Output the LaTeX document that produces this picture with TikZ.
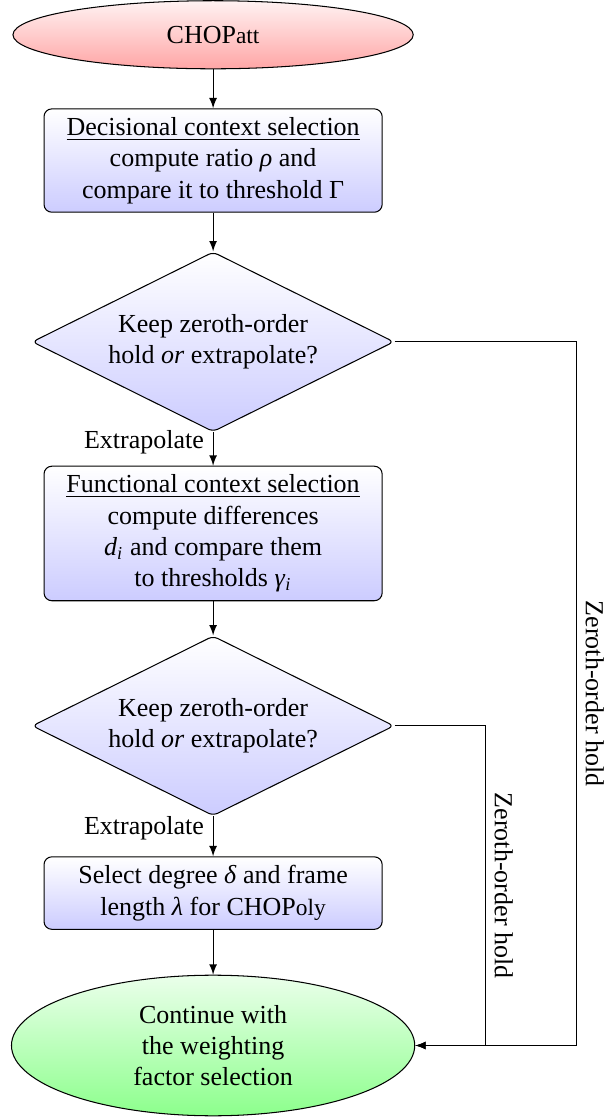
\documentclass[tikz,border=0pt]{standalone}
\usepackage{fontspec}
\setmainfont{Liberation Serif}
\usetikzlibrary{shapes.geometric}
\tikzset{
  term/.style={draw, ellipse, align=center},
  proc/.style={draw, rounded corners=3pt, top color=white, bottom color=blue!20, align=center, minimum width=4.57cm},
  quest/.style={draw, diamond, aspect=2, rounded corners=2pt, top color=white, bottom color=blue!20, align=center, inner sep=0pt, minimum width=4.89cm, minimum height=2.43cm},
  zoh/.style={rotate=-90, anchor=south},
}
\begin{document}
\begin{tikzpicture}[>=latex]
\useasboundingbox (0,0) rectangle (8.15,-15.11);
\node[term, top color=red!5, bottom color=red!35, minimum width=5.41cm, minimum height=0.92cm] (att) at (2.88,-0.47) {CHOP{\small att}};
\node[proc] (dcs) at (2.88,-2.17) {\underline{Decisional context selection}\\ compute ratio \textit{ρ} and\\ compare it to threshold Γ};
\draw[->] (att) -- (dcs);
\node[quest] (q1) at (2.88,-4.62) {Keep zeroth-order\\ hold \textit{or} extrapolate?};
\draw[->] (dcs) -- (q1);
\node[proc] (fcs) at (2.88,-7.21) {\underline{Functional context selection}\\ compute differences\\ \textit{d}\textsubscript{\textit{i}} and compare them\\ to thresholds \textit{γ}\textsubscript{\textit{i}}};
\draw[->] (q1) -- node[left, pos=0.3] {Extrapolate} (fcs);
\node[quest] (q2) at (2.88,-9.81) {Keep zeroth-order\\ hold \textit{or} extrapolate?};
\draw[->] (fcs) -- (q2);
\node[proc] (sel) at (2.88,-12.07) {Select degree \textit{δ} and frame\\ length \textit{λ} for CHOP{\small oly}};
\draw[->] (q2) -- node[left, pos=0.3] {Extrapolate} (sel);
\node[term, top color=green!8, bottom color=green!45, minimum width=5.45cm, minimum height=1.9cm] (wf) at (2.88,-14.13) {Continue with\\ the weighting\\ factor selection};
\draw[->] (sel) -- (wf);
% zeroth-order hold branches
\coordinate (z1) at (7.79,-9.375);
\draw[->] (q1.east) -| (z1) |- (wf.east);
\node[zoh] at (z1) {Zeroth-order hold};
\coordinate (z2) at (6.56,-11.97);
\draw[->] (q2.east) -| (z2) |- (wf.east);
\node[zoh] at (z2) {Zeroth-order hold};
\end{tikzpicture}
\end{document}
